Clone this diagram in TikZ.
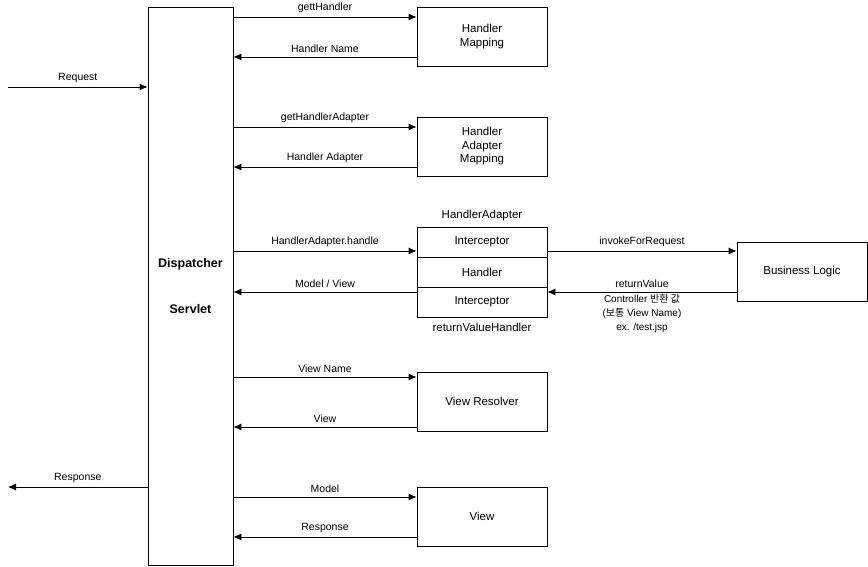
\documentclass[tikz,border=0pt]{standalone}
\usepackage{fontspec}
\setmainfont{Liberation Sans}
\newfontfamily\krfont{Noto Sans CJK KR}
\usetikzlibrary{arrows.meta}
\tikzset{
  box/.style={draw,line width=0.8pt,minimum width=130pt,minimum height=59pt,align=center,font=\fontsize{11.5}{13.5}\selectfont},
  cell/.style={draw,line width=0.8pt,minimum width=130pt,minimum height=30pt,font=\fontsize{11.5}{13.5}\selectfont},
  lbl/.style={font=\fontsize{10.5}{12}\selectfont},
  call/.style={line width=0.8pt,-{Latex[length=8pt,width=7pt]}}
}
\begin{document}
\begin{tikzpicture}[x=1pt,y=-1pt]
\useasboundingbox (0,0) rectangle (868,567);
% servlet
\node[draw,line width=0.8pt,minimum width=85pt,minimum height=558pt,align=center,font=\bfseries\fontsize{12.5}{14}\selectfont] (disp) at (190.5,286) {Dispatcher\\[32pt]Servlet};
% boxes on the right
\node[box] (hm) at (482,36.5) {Handler\\Mapping};
\node[box] (ham) at (482,146.5) {Handler\\Adapter\\Mapping};
\node[cell] (ic1) at (482,242) {Interceptor};
\node[cell] (hd) at (482,272) {Handler};
\node[cell] (ic2) at (482,302) {Interceptor};
\node[lbl,font=\fontsize{11.5}{13.5}\selectfont] (hatop) at (482,216) {HandlerAdapter};
\node[lbl,font=\fontsize{11.5}{13.5}\selectfont] (rvh) at (482,327) {returnValueHandler};
\node[box] (bl) at (802,271.5) {Business Logic};
\node[box] (vr) at (482,401.5) {View Resolver};
\node[box] (vw) at (482,516.5) {View};
% outside ends
\coordinate (req) at (8,87);
\coordinate (res) at (8,487);
\draw[call] (req) -- (disp.west |- req) node[midway,above=1pt,lbl]{Request};
\draw[call] (disp.west |- res) -- (res) node[midway,above=1pt,lbl]{Response};
% calls from the servlet
\foreach \y/\to/\txt in {17/hm/gettHandler,127/ham/getHandlerAdapter,251/ic1/HandlerAdapter.handle,377/vr/View Name,497/vw/Model}
{
    \draw[call] (disp.east |- 0,\y) -- (\to.west |- 0,\y) node[midway,above=1pt,lbl]{\txt};
}
\foreach \y/\from/\txt in {57/hm/Handler Name,167/ham/Handler Adapter,292/ic2/{Model / View},427/vr/View,537/vw/Response}
{
    \draw[call] (\from.west |- 0,\y) -- (disp.east |- 0,\y) node[midway,above=1pt,lbl]{\txt};
}
% business logic
\draw[call] (ic1.east |- 0,251) -- (bl.west |- 0,251) node[midway,above=1pt,lbl]{invokeForRequest};
\draw[call] (bl.west |- 0,292) -- (ic2.east |- 0,292) node[midway,above=1pt,lbl]{returnValue};
\node[align=center,font=\fontsize{10}{14}\selectfont] (note) at (642,313) {Controller {\krfont 반환 값}\\({\krfont 보통} View Name)\\ex. /test.jsp};
\end{tikzpicture}
\end{document}
